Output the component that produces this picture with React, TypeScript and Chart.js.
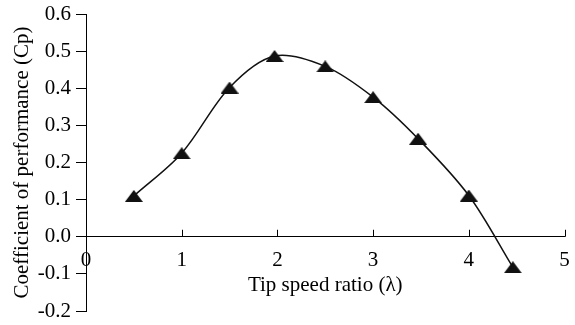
import React, { useEffect, useRef } from 'react';
import { Chart, registerables } from 'chart.js';

Chart.register(...registerables);

const tipSpeedRatio = [0.5, 1, 1.5, 1.97, 2.5, 3, 3.47, 4, 4.46];
const cpValues = [0.11, 0.225, 0.402, 0.487, 0.459, 0.376, 0.264, 0.111, -0.082];
const xTickValues = [0, 1, 2, 3, 4, 5];
const yTickValues = [-0.2, -0.1, 0, 0.1, 0.2, 0.3, 0.4, 0.5, 0.6];
const xTitle = 'Tip speed ratio (λ)';
const yTitle = 'Coefficient of performance (Cp)';

const FONT = 'Times New Roman, Liberation Serif, DejaVu Serif, serif';

function makeTriangle(): HTMLCanvasElement {
  const c = document.createElement('canvas');
  c.width = 18;
  c.height = 12;
  const ctx = c.getContext('2d')!;
  ctx.fillStyle = '#111';
  ctx.beginPath();
  ctx.moveTo(9, 0);
  ctx.lineTo(18, 12);
  ctx.lineTo(0, 12);
  ctx.closePath();
  ctx.fill();
  return c;
}

const innerXTicks = {
  id: 'innerXTicks',
  afterDraw(chart: any) {
    const xs = chart.scales.x;
    const ys = chart.scales.y;
    const y0 = ys.getPixelForValue(0);
    const ctx = chart.ctx;
    ctx.save();
    ctx.strokeStyle = '#000';
    ctx.lineWidth = 1;
    xTickValues.forEach((v) => {
      const px = Math.round(xs.getPixelForValue(v)) + 0.5;
      ctx.beginPath();
      ctx.moveTo(px, y0);
      ctx.lineTo(px, y0 - 7);
      ctx.stroke();
    });
    ctx.restore();
  },
};

export default function App() {
  const ref = useRef<HTMLCanvasElement | null>(null);
  useEffect(() => {
    if (!ref.current) return;
    const tri = makeTriangle();
    const chart = new Chart(ref.current, {
      type: 'line',
      data: {
        datasets: [
          {
            data: tipSpeedRatio.map((x, i) => ({ x, y: cpValues[i] })),
            borderColor: '#111',
            borderWidth: 1.5,
            tension: 0.33,
            pointStyle: tri as any,
            pointRadius: 9,
            fill: false,
          },
        ],
      },
      options: {
        responsive: false,
        animation: false,
        font: { family: FONT },
        layout: { padding: { left: 0, right: 9, top: 14, bottom: 14 } },
        plugins: { legend: { display: false }, tooltip: { enabled: false } },
        scales: {
          x: {
            type: 'linear',
            position: { y: 0 } as any,
            min: 0,
            max: 5,
            afterBuildTicks: (s: any) => {
              s.ticks = xTickValues.map((v) => ({ value: v }));
            },
            afterFit: (s: any) => {
              s.paddingLeft = 0;
              s.paddingRight = 0;
              s.paddingTop = 0;
              s.paddingBottom = 0;
            },
            ticks: {
              color: '#000',
              font: { family: FONT, size: 21 },
              padding: 11,
              callback: (v: any) => String(v),
            },
            grid: { display: true, drawOnChartArea: false, drawTicks: false },
            border: { display: true, color: '#000', width: 1 },
            title: {
              display: true,
              text: xTitle,
              color: '#000',
              font: { family: FONT, size: 21 },
              padding: { top: -11, bottom: 0 },
            },
          },
          y: {
            type: 'linear',
            position: 'left',
            min: -0.2,
            max: 0.6,
            afterBuildTicks: (s: any) => {
              s.ticks = yTickValues.map((v) => ({ value: v }));
            },
            afterFit: (s: any) => {
              s.width = 86;
              s.paddingTop = 0;
              s.paddingBottom = 0;
              s.paddingLeft = 0;
              s.paddingRight = 0;
            },
            ticks: {
              color: '#000',
              font: { family: FONT, size: 21 },
              padding: 5,
              callback: (v: any) => Number(v).toFixed(1),
            },
            grid: { display: true, drawOnChartArea: false, drawTicks: true, tickLength: 10, color: '#000' },
            border: { display: true, color: '#000', width: 1 },
            title: {
              display: true,
              text: yTitle,
              color: '#000',
              font: { family: FONT, size: 21 },
              padding: { top: 10, bottom: 0 },
            },
          },
        },
      },
      plugins: [innerXTicks],
    });
    return () => chart.destroy();
  }, []);
  return (
    <div style={{ position: 'absolute', left: 0, top: 0, width: 575, height: 325, background: '#fff' }}>
      <canvas ref={ref} width={575} height={325} style={{ display: 'block' }} />
    </div>
  );
}
